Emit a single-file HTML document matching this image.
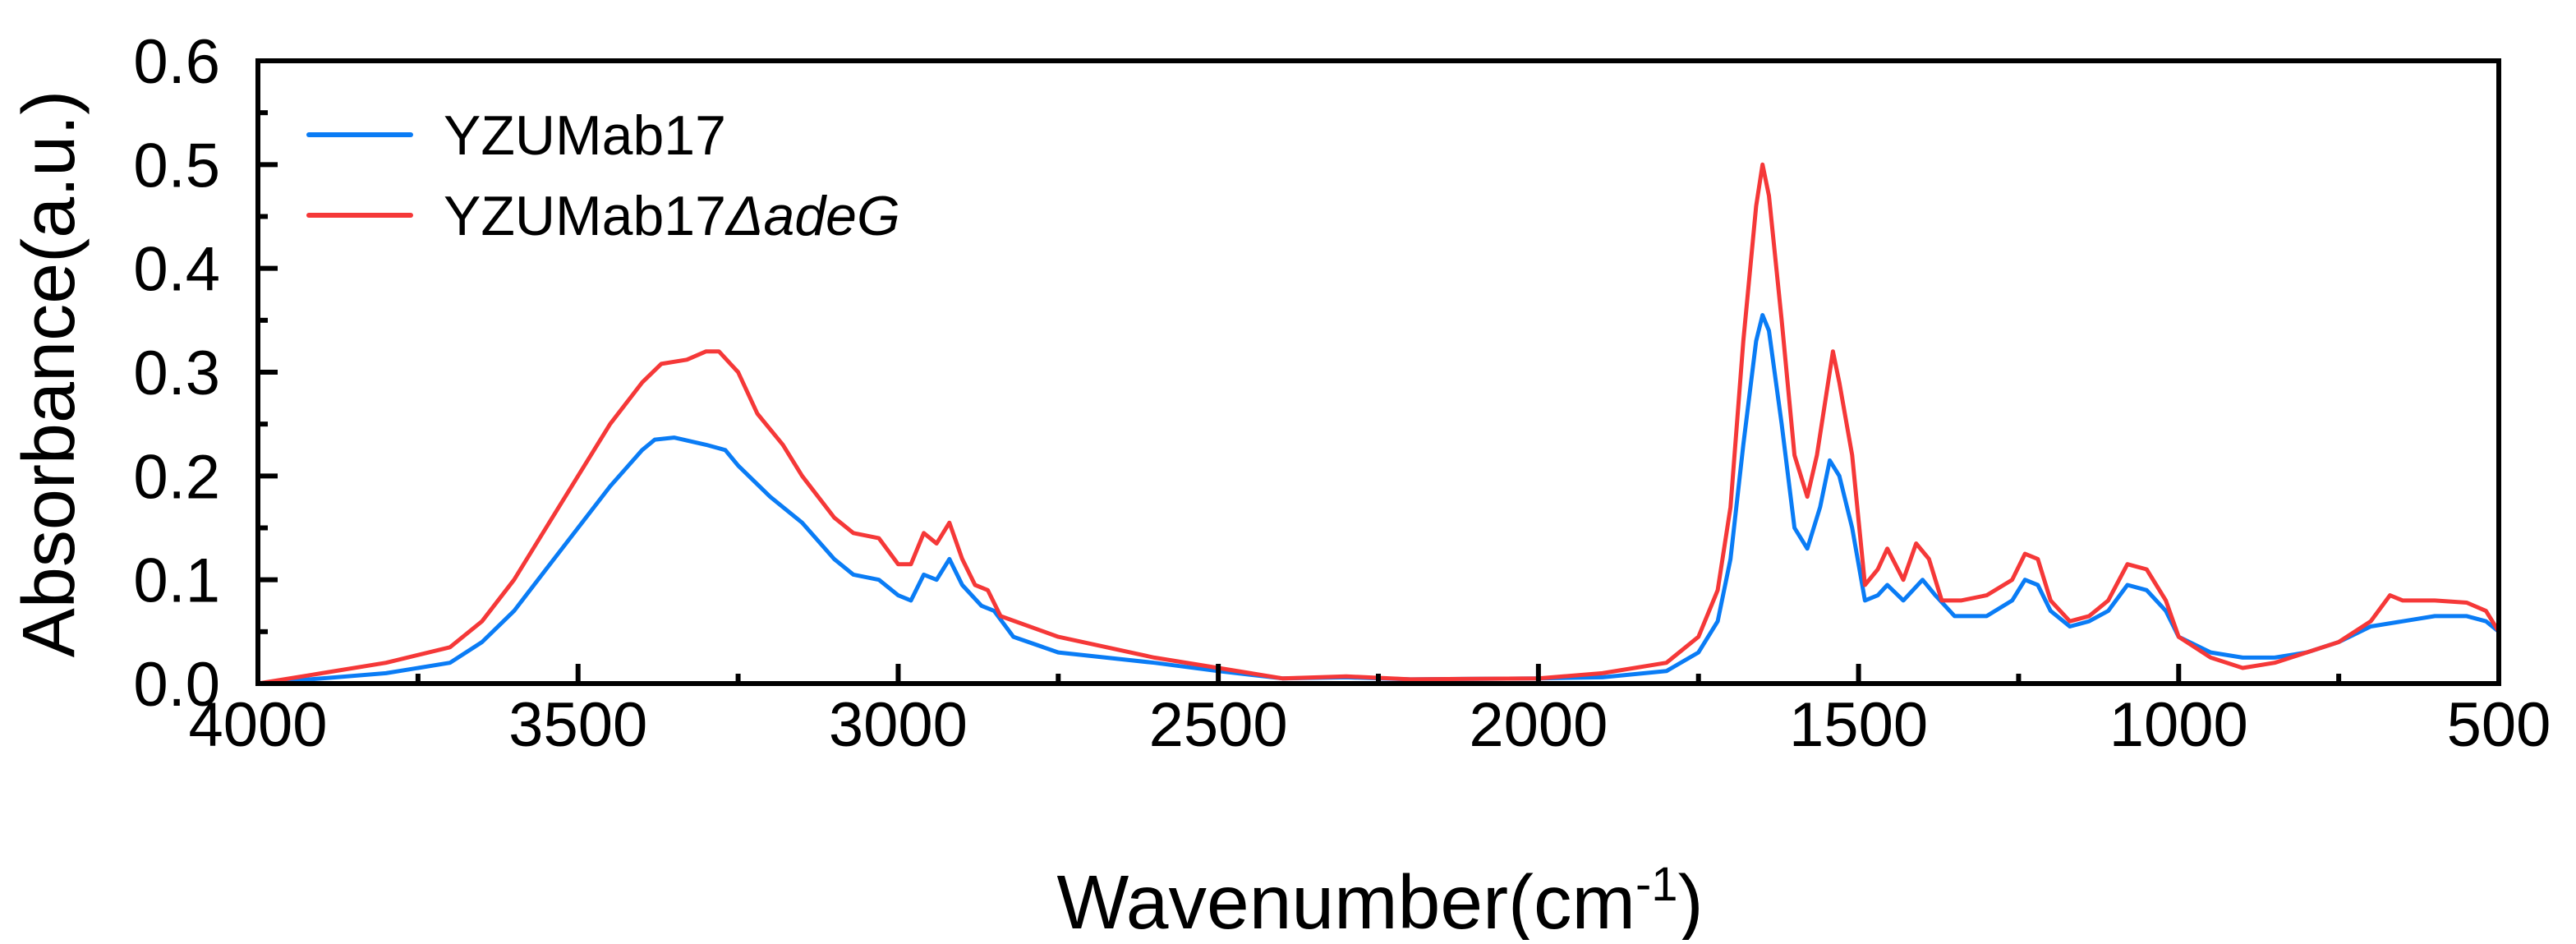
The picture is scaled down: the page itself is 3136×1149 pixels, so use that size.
<!DOCTYPE html>
<html><head><meta charset="utf-8"><style>
html,body{margin:0;padding:0;background:#fff;}
svg text{font-family:"Liberation Sans",sans-serif;fill:#000;}
</style></head><body>
<svg id="chart" width="3136" height="1144" viewBox="0 0 3136 1144" xmlns="http://www.w3.org/2000/svg">
<g id="plot"></g>
</svg>
<script>
const blueX=[4000,3900,3800,3700,3650,3600,3550,3500,3450,3400,3380,3350,3300,3270,3250,3200,3150,3100,3070,3030,3000,2980,2960,2940,2920,2900,2870,2850,2820,2750,2600,2500,2400,2300,2200,2000,1900,1800,1750,1720,1700,1680,1660,1650,1640,1620,1600,1580,1560,1545,1530,1510,1490,1470,1455,1430,1400,1380,1350,1300,1260,1240,1220,1200,1170,1140,1110,1080,1050,1020,1000,950,900,850,800,750,700,650,600,550,520,500];
const blueY=[0,0.005,0.01,0.02,0.04,0.07,0.11,0.15,0.19,0.225,0.235,0.237,0.23,0.225,0.21,0.18,0.155,0.12,0.105,0.1,0.085,0.08,0.105,0.1,0.12,0.095,0.075,0.07,0.045,0.03,0.02,0.012,0.005,0.006,0.004,0.005,0.006,0.012,0.03,0.06,0.12,0.23,0.33,0.355,0.34,0.25,0.15,0.13,0.17,0.215,0.2,0.15,0.08,0.085,0.095,0.08,0.1,0.085,0.065,0.065,0.08,0.1,0.095,0.07,0.055,0.06,0.07,0.095,0.09,0.07,0.045,0.03,0.025,0.025,0.03,0.04,0.055,0.06,0.065,0.065,0.06,0.05];
const redX=[4000,3900,3800,3700,3650,3600,3550,3500,3450,3400,3370,3330,3300,3280,3250,3220,3180,3150,3100,3070,3030,3000,2980,2960,2940,2920,2900,2880,2860,2840,2750,2600,2500,2400,2300,2200,2000,1900,1800,1750,1720,1700,1680,1660,1650,1640,1620,1600,1580,1565,1550,1540,1530,1510,1490,1470,1455,1430,1410,1390,1370,1340,1300,1260,1240,1220,1200,1170,1140,1110,1080,1050,1020,1000,950,900,850,800,750,700,670,650,600,550,520,500];
const redY=[0,0.01,0.02,0.035,0.06,0.1,0.15,0.2,0.25,0.29,0.308,0.312,0.32,0.32,0.3,0.26,0.23,0.2,0.16,0.145,0.14,0.115,0.115,0.145,0.135,0.155,0.12,0.095,0.09,0.065,0.045,0.025,0.015,0.005,0.007,0.004,0.005,0.01,0.02,0.045,0.09,0.17,0.33,0.46,0.5,0.47,0.35,0.22,0.18,0.22,0.28,0.32,0.29,0.22,0.095,0.11,0.13,0.1,0.135,0.12,0.08,0.08,0.085,0.1,0.125,0.12,0.08,0.06,0.065,0.08,0.115,0.11,0.08,0.045,0.025,0.015,0.02,0.03,0.04,0.06,0.085,0.08,0.08,0.078,0.07,0.05];
const xTicks=[4000,3500,3000,2500,2000,1500,1000,500];
const yTicks=[0.0,0.1,0.2,0.3,0.4,0.5,0.6];

const L=314,R=3042,T=74,B=832;
const sx=v=>L+(4000-v)/3500*(R-L);
const sy=v=>B-v/0.6*(B-T);
const NS='http://www.w3.org/2000/svg';
const g=document.getElementById('plot');
function mk(tag,attrs,txt){const e=document.createElementNS(NS,tag);for(const k in attrs)e.setAttribute(k,attrs[k]);if(txt!==undefined)e.textContent=txt;g.appendChild(e);return e;}

function series(xs,ys,color,name){
  const pts=xs.map((x,i)=>sx(x).toFixed(1)+','+sy(ys[i]).toFixed(1)).join(' ');
  const p=mk('polyline',{points:pts,fill:'none',stroke:color,'stroke-width':5,'stroke-linejoin':'round'});
  
  
}
series(blueX,blueY,'#0a7cf5','series-yzumab17');
series(redX,redY,'#f53838','series-yzumab17-adeg');

const fr=mk('rect',{x:L,y:T,width:R-L,height:B-T,fill:'none',stroke:'#000','stroke-width':6});



for(let v=4000;v>=500;v-=250){
  const major=v%500===0;
  const t=mk('line',{x1:sx(v),x2:sx(v),y1:B,y2:B-(major?24:12),stroke:'#000','stroke-width':6});
  
  
}
xTicks.forEach(v=>{
  const t=mk('text',{x:sx(v),y:908,'font-size':76,'text-anchor':'middle'},String(v));
  
  
});
for(let i=0;i<=12;i++){
  const v=i*0.05;const major=i%2===0;
  const t=mk('line',{x1:L,x2:L+(major?24:12),y1:sy(v),y2:sy(v),stroke:'#000','stroke-width':6});
  
  
}
yTicks.forEach(v=>{
  const t=mk('text',{x:268,y:sy(v)+27,'font-size':76,'text-anchor':'end'},v.toFixed(1));
  
  
});
const xt=mk('text',{x:1680,y:1130,'font-size':93,'text-anchor':'middle'},'Wavenumber(cm');


const sup=document.createElementNS(NS,'tspan');sup.setAttribute('font-size',58);sup.setAttribute('dy',-34);sup.textContent='-1';xt.appendChild(sup);
const cl=document.createElementNS(NS,'tspan');cl.setAttribute('dy',34);cl.textContent=')';xt.appendChild(cl);
const yt=mk('text',{x:0,y:0,'font-size':90,'text-anchor':'middle',transform:'translate(90,455) rotate(-90)'},'Absorbance(a.u.)');


const l1=mk('line',{x1:376,x2:500,y1:164,y2:164,stroke:'#0a7cf5','stroke-width':6,'stroke-linecap':'round'});


const t1=mk('text',{x:540,y:188,'font-size':68},'YZUMab17');


const l2=mk('line',{x1:376,x2:500,y1:262,y2:262,stroke:'#f53838','stroke-width':6,'stroke-linecap':'round'});


const t2=mk('text',{x:540,y:286,'font-size':68},'YZUMab17');


const it=document.createElementNS(NS,'tspan');it.setAttribute('font-style','italic');it.textContent='\u0394adeG';t2.appendChild(it);
</script>
</body></html>
